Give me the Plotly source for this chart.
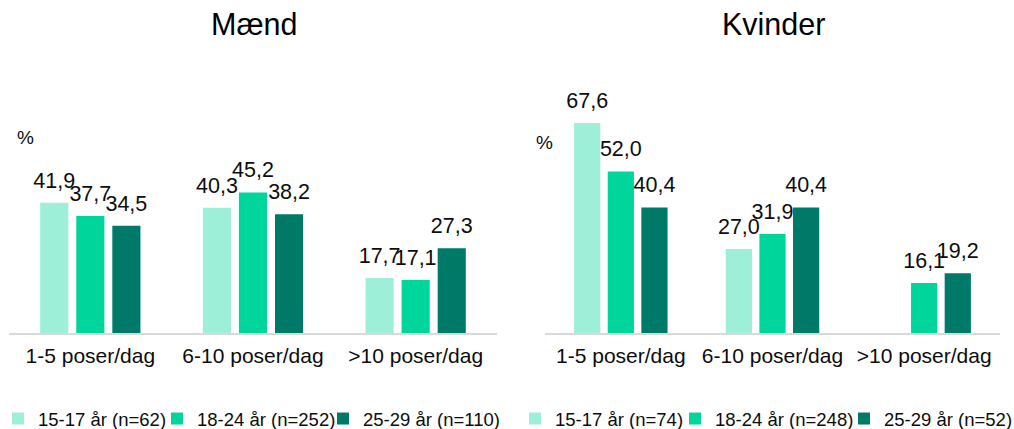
import plotly.graph_objects as go

categories = ["1-5 poser/dag", "6-10 poser/dag", ">10 poser/dag"]

maend_groups = ["15-17 år (n=62)", "18-24 år (n=252)", "25-29 år (n=110)"]
maend_15_17 = [41.9, 40.3, 17.7]
maend_18_24 = [37.7, 45.2, 17.1]
maend_25_29 = [34.5, 38.2, 27.3]

kvinder_groups = ["15-17 år (n=74)", "18-24 år (n=248)", "25-29 år (n=52)"]
kvinder_15_17 = [67.6, 27.0, None]
kvinder_18_24 = [52.0, 31.9, 16.1]
kvinder_25_29 = [40.4, 40.4, 19.2]

titles = ["Mænd", "Kvinder"]
colors = ["#9DEFD7", "#00D69B", "#007A68"]

FONT = "Arial, Liberation Sans, sans-serif"
TXT = "#0d0d0d"

# body margin is removed by the post script, so figure px == page px
W, H = 1014, 429
TOP, BASE = 100, 333          # plot area top / baseline in page pixels
PH = BASE - TOP


def fmt(v):
    return "" if v is None else f"{v:.1f}".replace(".", ",")


def px(xpix):
    return xpix / W


def py(ypix):
    return (BASE - ypix) / PH


fig = go.Figure()

# legend text start positions (page px) for each item
legend_text_x = [[38, 197, 363], [555, 715, 884]]
legend_names = []

panels = [
    ("x", "y", maend_groups, [maend_15_17, maend_18_24, maend_25_29]),
    ("x2", "y2", kvinder_groups, [kvinder_15_17, kvinder_18_24, kvinder_25_29]),
]

k = 0
for p, (xa, ya, names, series) in enumerate(panels):
    for i, (name, vals, col) in enumerate(zip(names, series, colors)):
        k += 1
        leg = "legend" if k == 1 else f"legend{k}"
        legend_names.append((leg, legend_text_x[p][i]))
        fig.add_trace(go.Bar(
            x=categories, y=vals, name=name, marker=dict(color=col, line=dict(width=0)),
            xaxis=xa, yaxis=ya, legend=leg, showlegend=True,
        ))
    for name, vals, col in zip(names, series, colors):
        fig.add_trace(go.Scatter(
            x=categories, y=vals, mode="markers+text",
            text=[fmt(v) for v in vals], textposition="top center",
            textfont=dict(family=FONT, size=21.5, color=TXT),
            marker=dict(size=14, color="rgba(0,0,0,0)"),
            xaxis=xa, yaxis=ya, showlegend=False, cliponaxis=False,
        ))

axis_common = dict(
    showline=True, linecolor="#d9d9d9", linewidth=2, ticks="",
    tickfont=dict(family=FONT, size=21, color=TXT),
    showgrid=False, zeroline=False, fixedrange=True, ticklabelstandoff=3,
)
yaxis_common = dict(range=[0, 75], showticklabels=False, showgrid=False,
                    zeroline=False, showline=False, fixedrange=True)

legends = {}
for leg, tx in legend_names:
    legends[leg] = dict(
        orientation="h", yanchor="middle", y=py(419), xanchor="left",
        x=px(tx - 40),
        font=dict(family=FONT, size=18.5, color=TXT),
        bgcolor="rgba(0,0,0,0)", itemwidth=30,
    )

fig.update_layout(
    width=W, height=H,
    margin=dict(l=0, r=0, t=TOP, b=H - BASE, autoexpand=False),
    paper_bgcolor="white", plot_bgcolor="white",
    barmode="group", bargap=0.335, bargroupgap=0.22,
    scattermode="group", scattergap=0.335,
    hovermode=False,
    font=dict(family=FONT, color=TXT),
    xaxis=dict(domain=[px(9), px(497)], anchor="y", **axis_common),
    yaxis=dict(domain=[0, 1], anchor="x", **yaxis_common),
    xaxis2=dict(domain=[px(545), px(1000)], anchor="y2", **axis_common),
    yaxis2=dict(domain=[0, 1], anchor="x2", **yaxis_common),
    annotations=[
        dict(text=titles[0], x=px(254), y=py(24), xref="paper", yref="paper",
             xanchor="center", yanchor="middle", showarrow=False,
             font=dict(family=FONT, size=30.5, color="#000000")),
        dict(text=titles[1], x=px(773), y=py(24), xref="paper", yref="paper",
             xanchor="center", yanchor="middle", showarrow=False,
             font=dict(family=FONT, size=30.5, color="#000000")),
        dict(text="%", x=px(25), y=py(137), xref="paper", yref="paper",
             xanchor="center", yanchor="middle", showarrow=False,
             font=dict(family=FONT, size=19, color=TXT)),
        dict(text="%", x=px(544), y=py(142), xref="paper", yref="paper",
             xanchor="center", yanchor="middle", showarrow=False,
             font=dict(family=FONT, size=19, color=TXT)),
    ],
)
fig.update_layout(**legends)

fig.write_html(
    "out.html",
    config={"displayModeBar": False, "staticPlot": True},
    post_script="document.body.style.margin='0';document.body.style.overflow='hidden';",
)
